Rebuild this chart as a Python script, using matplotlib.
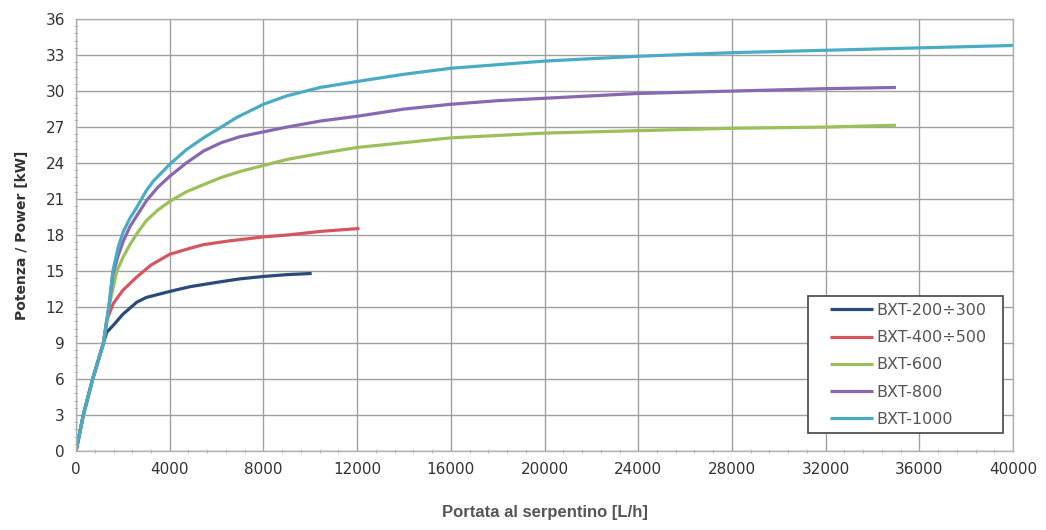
import matplotlib
matplotlib.use("Agg")
import matplotlib.pyplot as plt
from matplotlib.ticker import MultipleLocator
from matplotlib.patches import Rectangle

plt.rcParams['font.family'] = ['Liberation Sans Narrow', 'DejaVu Sans']

labels = ["BXT-200÷300", "BXT-400÷500", "BXT-600", "BXT-800", "BXT-1000"]
colors = ["#2a4a7a", "#d6565f", "#9bc05a", "#8868b0", "#4aacc4"]

x_200 = [0, 310, 710, 1170, 1310, 1600, 2000, 2590, 3000, 4000, 4870, 6150, 7000, 8000, 9000, 10060]
y_200 = [0, 3.0, 6.0, 9.0, 9.9, 10.5, 11.4, 12.4, 12.8, 13.3, 13.7, 14.1, 14.35, 14.55, 14.7, 14.8]

x_400 = [0, 310, 710, 1170, 1310, 1590, 2000, 2590, 3200, 4000, 4870, 5440, 6500, 8000, 9000, 10420, 12100]
y_400 = [0, 3.0, 6.0, 9.0, 10.9, 12.3, 13.4, 14.5, 15.5, 16.4, 16.9, 17.2, 17.5, 17.85, 18.0, 18.3, 18.55]

x_600 = [0, 310, 710, 1170, 1400, 1740, 2020, 2300, 2590, 3000, 3500, 4000, 4700, 5440, 6200, 7000,
         8000, 9000, 10420, 12000, 14000, 16000, 18000, 20000, 24000, 28000, 32000, 35000]
y_600 = [0, 3.0, 6.0, 9.0, 12.0, 15.0, 16.2, 17.2, 18.1, 19.2, 20.1, 20.8, 21.6, 22.2, 22.8, 23.3,
         23.8, 24.3, 24.8, 25.3, 25.7, 26.1, 26.3, 26.5, 26.7, 26.9, 27.0, 27.15]

x_800 = [0, 310, 710, 1170, 1400, 1570, 1800, 2020, 2300, 2590, 3020, 3500, 4000, 4700, 5440, 6200,
         7000, 8000, 9000, 10420, 12000, 14000, 16000, 18000, 20000, 24000, 28000, 32000, 35000]
y_800 = [0, 3.0, 6.0, 9.0, 12.0, 14.7, 16.3, 17.5, 18.7, 19.6, 20.9, 22.0, 22.9, 24.0, 25.0, 25.7,
         26.2, 26.6, 27.0, 27.5, 27.9, 28.5, 28.9, 29.2, 29.4, 29.8, 30.0, 30.2, 30.3]

x_1000 = [0, 310, 710, 1170, 1400, 1570, 1800, 2020, 2300, 2590, 3000, 3300, 3650, 4000, 4700, 5440,
          6200, 6860, 8000, 9000, 10420, 12000, 14000, 16000, 18000, 20000, 24000, 28000, 32000, 36000, 40000]
y_1000 = [0, 3.0, 6.0, 9.0, 12.0, 15.0, 17.0, 18.3, 19.4, 20.3, 21.7, 22.5, 23.2, 23.9, 25.1, 26.1,
          27.0, 27.8, 28.9, 29.6, 30.3, 30.8, 31.4, 31.9, 32.2, 32.5, 32.9, 33.2, 33.4, 33.6, 33.8]

series = [(x_200, y_200), (x_400, y_400), (x_600, y_600), (x_800, y_800), (x_1000, y_1000)]

fig = plt.figure(figsize=(10.46, 5.30), dpi=100)
ax = fig.add_axes([0.0727, 0.149, 0.8958, 0.815])

for (xs, ys), lab, c in zip(series, labels, colors):
    ax.plot(xs, ys, color=c, lw=2.3, label=lab, solid_capstyle='butt', solid_joinstyle='round')

ax.set_xlim(0, 40000)
ax.set_ylim(0, 36)
ax.xaxis.set_major_locator(MultipleLocator(4000))
ax.yaxis.set_major_locator(MultipleLocator(3))
ax.xaxis.set_minor_locator(MultipleLocator(800))
ax.yaxis.set_minor_locator(MultipleLocator(0.6))
ax.grid(True, which='major', color='#a0a0a0', lw=1.0)
ax.set_axisbelow(True)
for s in ax.spines.values():
    s.set_color('#b0b0b0')
    s.set_linewidth(1.0)
ax.tick_params(which='major', length=0, labelsize=11, labelcolor='#333333', pad=8)
ax.tick_params(which='minor', length=3, color='#b0b0b0', direction='inout')

ax.set_ylabel("Potenza / Power [kW]", fontsize=10, fontweight='bold', color='#333333', labelpad=12)
ax.set_xlabel("Portata al serpentino [L/h]", fontsize=12, fontweight='bold', color='#555555',
              family=['Liberation Sans', 'DejaVu Sans'], labelpad=20)

# legend frame drawn as a box in axes coordinates
frame = Rectangle((0.781, 0.042), 0.208, 0.317, transform=ax.transAxes, facecolor='white',
                  edgecolor='#444444', lw=1.2, zorder=4)
ax.add_patch(frame)
leg = ax.legend(loc='upper left', bbox_to_anchor=(0.8047, 0.343), borderaxespad=0, borderpad=0,
                fontsize=11.5, frameon=False, handlelength=2.7, handletextpad=0.2,
                labelspacing=0.77, labelcolor='#555555')
leg.set_zorder(5)

fig.savefig("out.png", dpi=100)
